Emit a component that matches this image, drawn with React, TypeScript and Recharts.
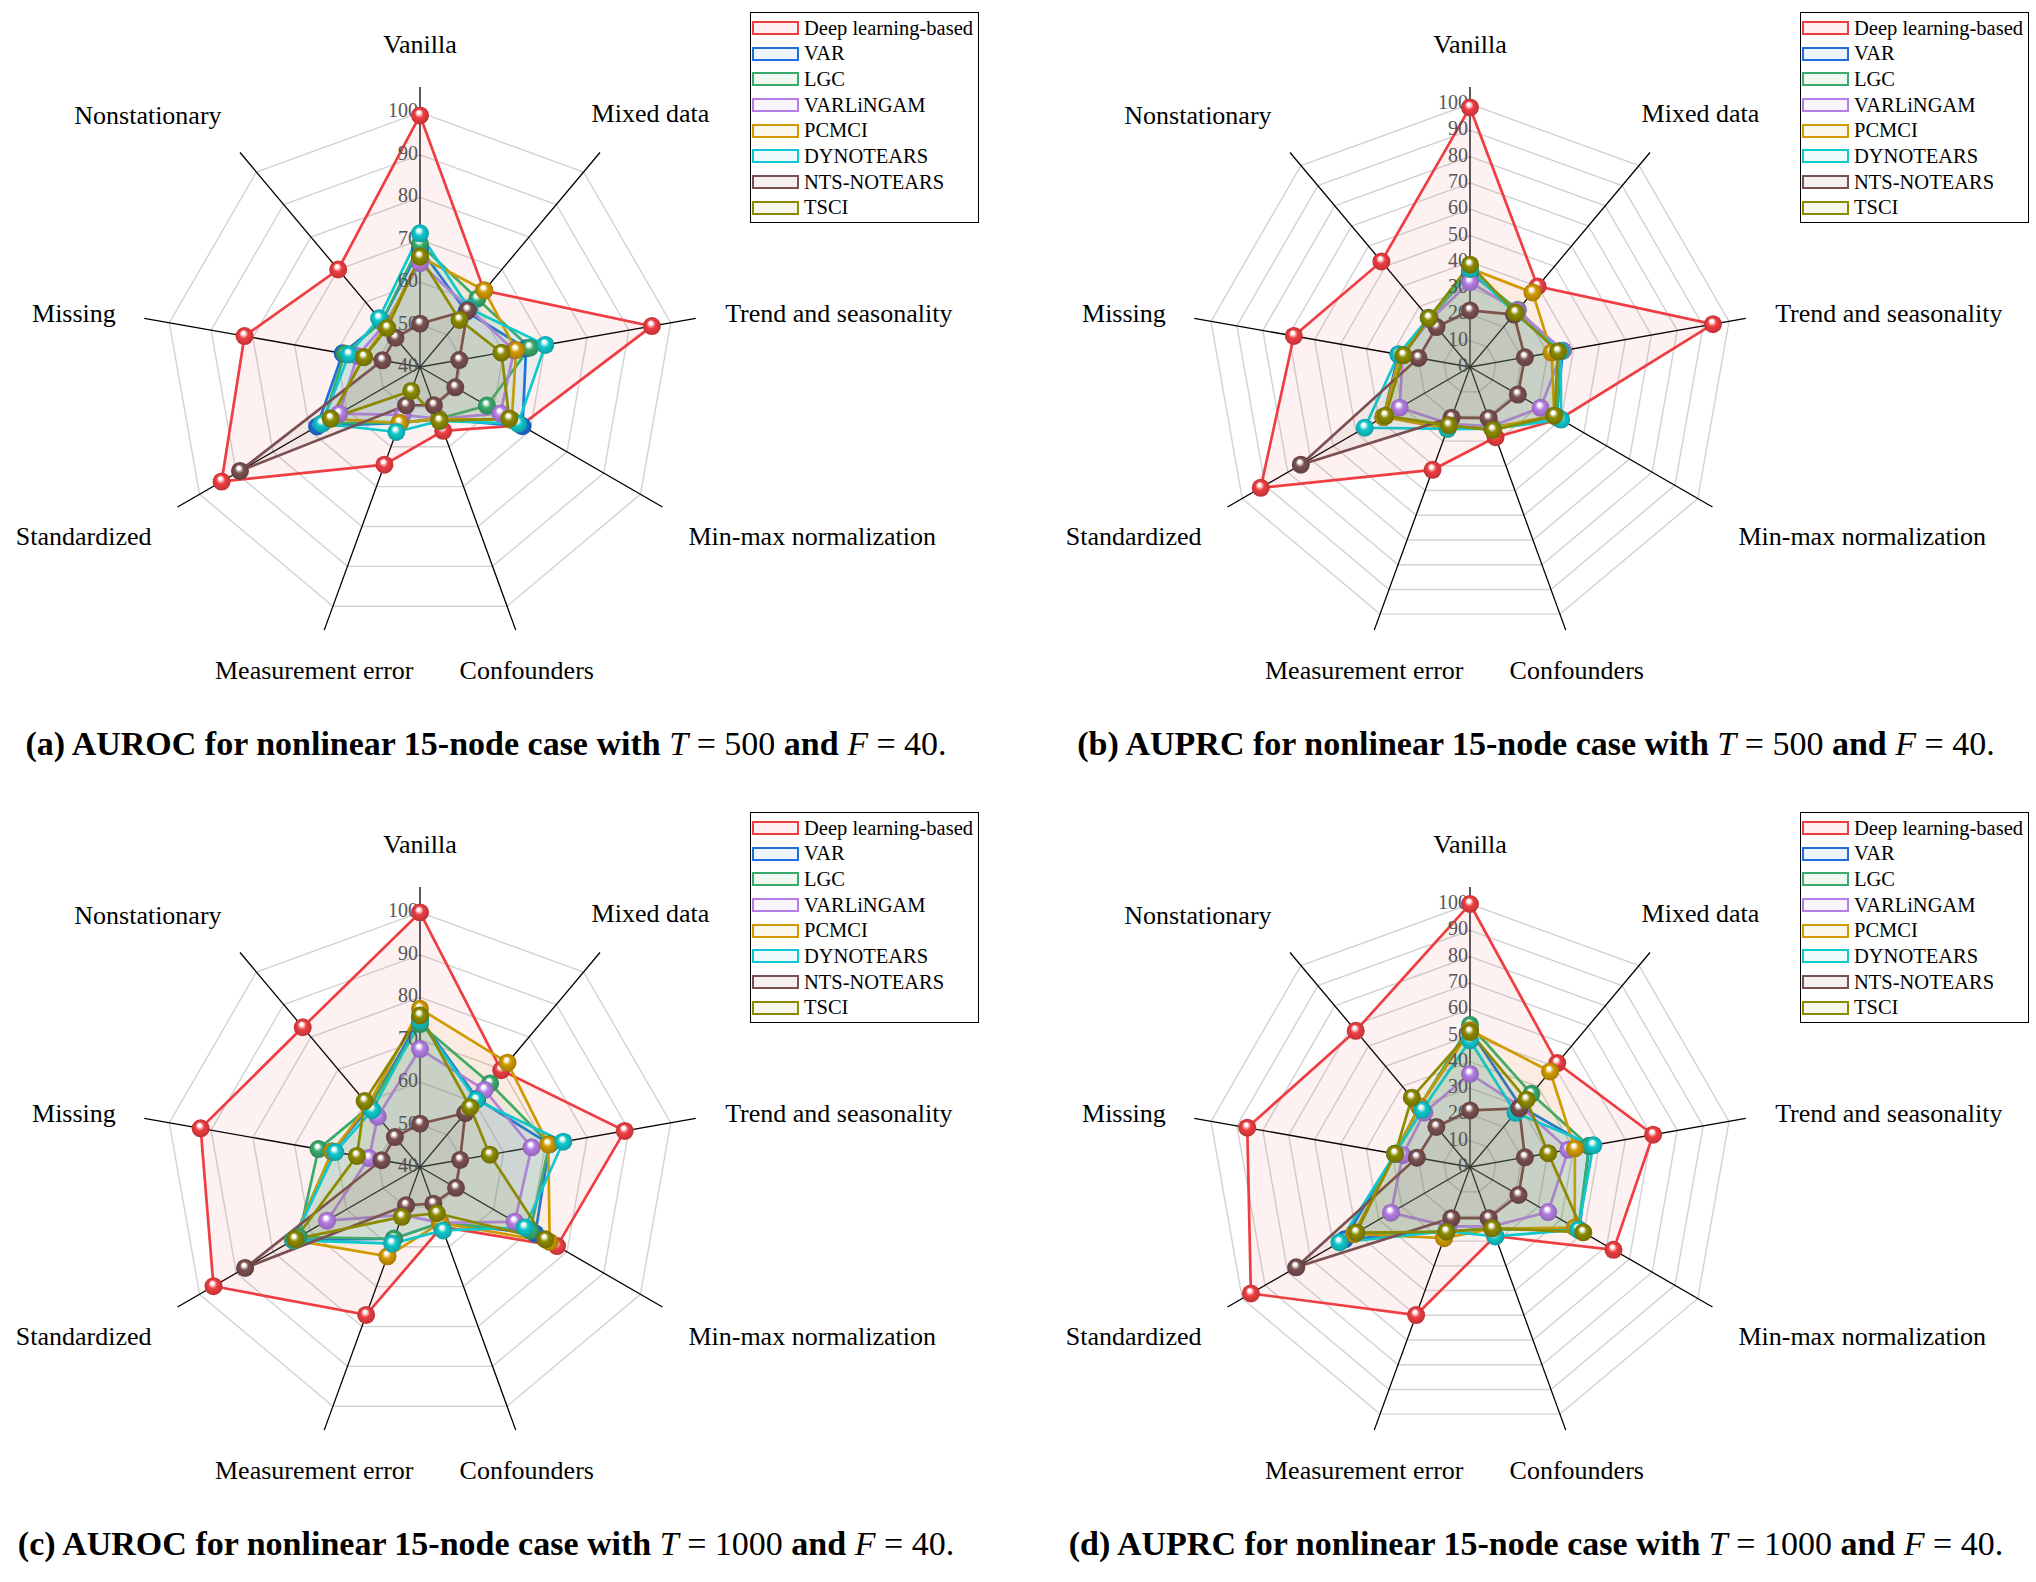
import React from 'react'
import { RadarChart, Radar, PolarGrid, PolarAngleAxis, PolarRadiusAxis } from 'recharts'

// axes, clockwise from the top
const categories = [
  'Vanilla',
  'Mixed data',
  'Trend and seasonality',
  'Min-max normalization',
  'Confounders',
  'Measurement error',
  'Standardized',
  'Missing',
  'Nonstationary',
]

const methods = ['Deep learning-based', 'VAR', 'LGC', 'VARLiNGAM', 'PCMCI', 'DYNOTEARS', 'NTS-NOTEARS', 'TSCI']
const colors = ['#ef3e42', '#1e6fdc', '#3aab6b', '#b57ee5', '#d09a00', '#10c8cc', '#7b5050', '#8c8a00']

const aurocTicks = [40, 50, 60, 70, 80, 90, 100]
const auprcTicks = [0, 10, 20, 30, 40, 50, 60, 70, 80, 90, 100]

// one row per method (same order as `methods`), one value per category
const aurocT500 = [
  [99.3, 63.5, 95.5, 67.5, 56, 64.5, 94, 82, 70],
  [68, 57, 65.4, 67.9, 53, 54, 68, 58.5, 54],
  [69, 61, 66.3, 58.2, 53, 54, 66.5, 58, 54],
  [64.5, 58, 62.5, 61.9, 53, 52, 62, 55, 53],
  [66, 63.6, 63, 65, 53, 54, 64.5, 53.5, 52.5],
  [71.5, 58, 70, 66.7, 53.5, 56.3, 66.7, 57, 55],
  [50.2, 57.5, 49.4, 49.6, 49.6, 49.6, 89, 49, 49],
  [66, 54.5, 59.5, 64.3, 53.5, 46, 64.3, 53.4, 52],
]

const auprcT500 = [
  [98.7, 40, 93.8, 39.5, 28.4, 41.6, 91.9, 68, 52.4],
  [36, 28, 35.8, 38, 24.5, 24, 38, 27.6, 24],
  [36.5, 28.3, 35, 38, 24.5, 24, 38, 27, 24],
  [32.3, 28, 35.8, 31, 24, 23, 30.9, 26, 23.5],
  [37.5, 37, 31.5, 37, 24.5, 25, 38, 27, 24],
  [37.3, 26.5, 35, 40, 25, 25, 46.2, 27.6, 24.5],
  [21.5, 26, 21.2, 21, 20.7, 20.5, 74.3, 19.9, 19.8],
  [38.9, 27, 34, 37, 25.5, 23.6, 37.1, 25.7, 24.3],
]

const aurocT1000 = [
  [100, 69.8, 89, 77.3, 55, 77.1, 96.2, 92.5, 83],
  [75, 61, 71, 71.4, 54, 58, 74.5, 61, 58.5],
  [73.7, 65.7, 71, 70, 54, 58, 73, 64.3, 58.5],
  [67.8, 63.7, 66.7, 65.8, 54, 52, 65.3, 52.2, 55.5],
  [77.3, 72.1, 70.7, 75.3, 54, 62.4, 74.5, 61, 59],
  [74.5, 60.6, 74.3, 68.5, 55.9, 59.2, 74.5, 60.3, 57.5],
  [50.2, 56.6, 49.6, 49.8, 49.2, 49.6, 87.6, 49.2, 49.2],
  [75.7, 58.4, 56.7, 74.1, 51.6, 52.5, 74, 55.1, 60.3],
]

const auprcT1000 = [
  [100, 51.6, 70.7, 63, 28, 59.9, 96.2, 86, 67.6],
  [52, 30, 46, 48, 25, 26, 55, 28.9, 30],
  [54, 36.3, 46, 47.5, 25, 26, 51, 28.9, 30],
  [35.4, 30, 38, 34.3, 24, 24, 34.7, 26, 27],
  [52, 47.4, 40.5, 46, 25, 28.8, 51, 28.9, 30],
  [48.1, 26.9, 47.6, 47.5, 28.1, 26, 57.3, 28.9, 28.3],
  [21.5, 29.1, 21.2, 21.3, 20.7, 20.7, 76.3, 20.5, 19.9],
  [51.3, 33.4, 30.2, 49.7, 24.8, 26.2, 49.9, 28.9, 34.4],
]

const SERIF = '"Liberation Serif", "Times New Roman", serif'
const CX = 420
const CY = 367
const OUTER = 280
const LABEL_R = 318
// small hand nudges for the category labels (px), same order as categories
const labelNudge = [
  [0, -5],
  [26, -10],
  [-8, 2],
  [-7, 10],
  [-2, 5],
  [3, 5],
  [7, 10],
  [9, 2],
  [6, -8],
]

const toRows = (values: number[][]) =>
  categories.map((category, c) => {
    const row: any = { category }
    values.forEach((v, m) => (row['s' + m] = v[c]))
    return row
  })

const darken = (hex: string, k: number) => {
  const n = parseInt(hex.slice(1), 16)
  const f = (v: number) => Math.round(v * k).toString(16).padStart(2, '0')
  return '#' + f((n >> 16) & 255) + f((n >> 8) & 255) + f(n & 255)
}

const sphere = (i: number) => (props: any) => {
  const { cx, cy, index } = props
  if (cx == null || cy == null) return <g key={index} />
  return <circle key={index} cx={cx} cy={cy} r={9} fill={`url(#sphere-${i})`} />
}

const angleTick = (props: any) => {
  const { payload, index } = props
  const a = (payload.coordinate * Math.PI) / 180
  const c = Math.cos(a)
  const s = Math.sin(a)
  const anchor = c > 0.7 ? 'start' : c < -0.6 ? 'end' : 'middle'
  const [dx, dy] = labelNudge[index] || [0, 0]
  return (
    <text
      x={CX + LABEL_R * c + dx}
      y={CY - LABEL_R * s + dy}
      textAnchor={anchor}
      dominantBaseline="central"
      style={{ fontFamily: SERIF, fontSize: 26, fill: '#000' }}
    >
      {payload.value}
    </text>
  )
}

const radiusTick = (props: any) => {
  const { x, y, payload } = props
  return (
    <text
      x={x - 2}
      y={y - 2}
      textAnchor="end"
      dominantBaseline="central"
      style={{ fontFamily: SERIF, fontSize: 20, fill: '#555' }}
    >
      {payload.value}
    </text>
  )
}

function Legend({ left, top }: { left: number; top: number }) {
  return (
    <div
      style={{
        position: 'absolute',
        left,
        top,
        width: 229,
        border: '1.5px solid #000',
        background: '#fff',
        boxSizing: 'border-box',
        padding: '2px 0 1px 0',
        fontFamily: SERIF,
        fontSize: 20.5,
      }}
    >
      {methods.map((m, i) => (
        <div key={m} style={{ display: 'flex', alignItems: 'center', height: 25.7 }}>
          <span
            style={{
              display: 'inline-block',
              width: 47,
              height: 14,
              marginLeft: 1,
              marginRight: 5,
              boxSizing: 'border-box',
              border: `2.5px solid ${colors[i]}`,
              background: colors[i] + '14',
            }}
          />
          <span style={{ lineHeight: 1 }}>{m}</span>
        </div>
      ))}
    </div>
  )
}

function Panel({ values, ticks, label, metric, T, left, top }: any) {
  const min = ticks[0]
  const max = ticks[ticks.length - 1]
  const ring100 = min === 0 ? 263 : 255
  const domainMax = min + ((max - min) * OUTER) / ring100
  const data = toRows(values)
  return (
    <div style={{ position: 'absolute', left, top, width: 1018, height: 800 }}>
      <RadarChart
        width={1018}
        height={720}
        data={data}
        cx={CX}
        cy={CY}
        outerRadius={OUTER}
        margin={{ top: 0, right: 0, bottom: 0, left: 0 }}
        style={{ overflow: 'visible' }}
      >
        <PolarGrid gridType="polygon" radialLines={false} stroke="#d2d2d2" strokeWidth={1.4} />
        <PolarGrid gridType="polygon" polarRadius={[]} stroke="#000" strokeWidth={1.3} />
        <PolarAngleAxis dataKey="category" tick={angleTick} tickLine={false} axisLine={false} />
        <PolarRadiusAxis
          angle={90}
          type="number"
          domain={[min, domainMax]}
          ticks={ticks}
          tick={radiusTick}
          axisLine={false}
          tickLine={false}
          allowDataOverflow
        />
        {methods.map((m, i) => (
          <Radar
            key={m}
            name={m}
            dataKey={'s' + i}
            stroke={colors[i]}
            strokeWidth={2.7}
            fill={colors[i]}
            fillOpacity={0.07}
            dot={sphere(i)}
            activeDot={false}
            isAnimationActive={false}
          />
        ))}
      </RadarChart>
      <Legend left={750} top={12} />
      <div
        style={{
          position: 'absolute',
          left: -14,
          top: 725,
          width: 1000,
          textAlign: 'center',
          fontFamily: SERIF,
          fontSize: 34,
          fontWeight: 'bold',
          whiteSpace: 'nowrap',
        }}
      >
        ({label}) {metric} for nonlinear 15-node case with{' '}
        <span style={{ fontWeight: 'normal' }}>
          <i>T</i> = {T}
        </span>{' '}
        and{' '}
        <span style={{ fontWeight: 'normal' }}>
          <i>F</i> = 40.
        </span>
      </div>
    </div>
  )
}

export default function App() {
  return (
    <div style={{ position: 'relative', width: 2036, height: 1582, background: '#fff' }}>
      <style>{'body{margin:0;background:#fff}'}</style>
      <svg width={0} height={0} style={{ position: 'absolute' }}>
        <defs>
          {colors.map((c, i) => (
            <radialGradient key={c} id={`sphere-${i}`} cx="50%" cy="50%" r="50%" fx="42%" fy="30%">
              <stop offset="0%" stopColor="#ffffff" />
              <stop offset="18%" stopColor="#ffffff" stopOpacity={0.95} />
              <stop offset="48%" stopColor={c} />
              <stop offset="100%" stopColor={darken(c, 0.8)} />
            </radialGradient>
          ))}
        </defs>
      </svg>
      <Panel values={aurocT500} ticks={aurocTicks} label="a" metric="AUROC" T={500} left={0} top={0} />
      <Panel values={auprcT500} ticks={auprcTicks} label="b" metric="AUPRC" T={500} left={1050} top={0} />
      <Panel values={aurocT1000} ticks={aurocTicks} label="c" metric="AUROC" T={1000} left={0} top={800} />
      <Panel values={auprcT1000} ticks={auprcTicks} label="d" metric="AUPRC" T={1000} left={1050} top={800} />
    </div>
  )
}
